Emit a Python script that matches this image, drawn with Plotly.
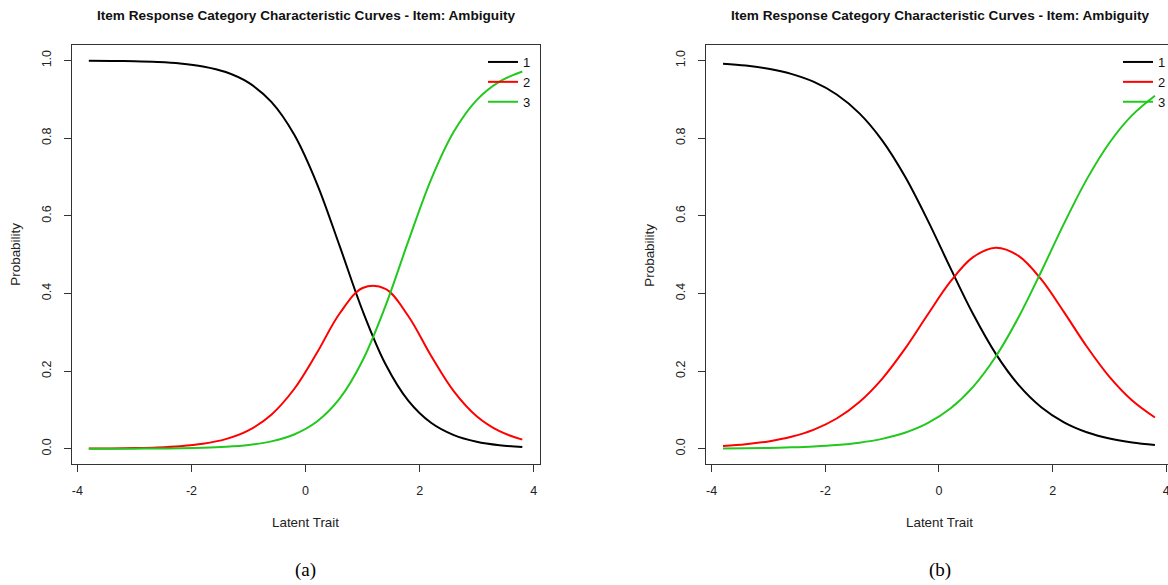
import plotly.graph_objects as go

# Latent trait grid
theta = [-3.8, -3.4, -3.0, -2.6, -2.2, -1.8, -1.4, -1.0, -0.6, -0.2,
         0.2, 0.6, 1.0, 1.4, 1.8, 2.2, 2.6, 3.0, 3.4, 3.8]

# Panel (a): category probabilities
a_cat1 = [0.9995, 0.9990, 0.9980, 0.9960, 0.9922, 0.9847, 0.9703, 0.9429, 0.8933, 0.8093,
          0.6825, 0.5212, 0.3555, 0.2184, 0.1240, 0.0669, 0.0351, 0.0181, 0.0092, 0.0047]
a_cat2 = [0.0004, 0.0009, 0.0017, 0.0033, 0.0065, 0.0128, 0.0248, 0.0473, 0.0877, 0.1539,
          0.2473, 0.3491, 0.4140, 0.4120, 0.3420, 0.2397, 0.1479, 0.0838, 0.0452, 0.0236]
a_cat3 = [0.0001, 0.0002, 0.0003, 0.0007, 0.0013, 0.0025, 0.0050, 0.0097, 0.0190, 0.0368,
          0.0702, 0.1297, 0.2272, 0.3673, 0.5340, 0.6934, 0.8170, 0.8981, 0.9456, 0.9717]

# Panel (b): category probabilities
b_cat1 = [0.9920, 0.9870, 0.9788, 0.9656, 0.9448, 0.9124, 0.8639, 0.7944, 0.7018, 0.5889,
          0.4660, 0.3470, 0.2445, 0.1646, 0.1071, 0.0681, 0.0426, 0.0264, 0.0162, 0.0100]
b_cat2 = [0.0072, 0.0117, 0.0190, 0.0308, 0.0494, 0.0780, 0.1205, 0.1802, 0.2572, 0.3453,
          0.4304, 0.4935, 0.5179, 0.4968, 0.4362, 0.3520, 0.2635, 0.1853, 0.1244, 0.0806]
b_cat3 = [0.0008, 0.0013, 0.0022, 0.0036, 0.0059, 0.0096, 0.0157, 0.0255, 0.0411, 0.0658,
          0.1036, 0.1596, 0.2376, 0.3386, 0.4567, 0.5799, 0.6939, 0.7883, 0.8594, 0.9094]

categories = ["1", "2", "3"]
colors = ["#000000", "#FF0000", "#22C81E"]
x_tickvals = [-4, -2, 0, 2, 4]
x_ticktext = ["-4", "-2", "0", "2", "4"]
y_tickvals = [0.0, 0.2, 0.4, 0.6, 0.8, 1.0]
y_ticktext = ["0.0", "0.2", "0.4", "0.6", "0.8", "1.0"]
title_text = "<b>Item Response Category Characteristic Curves - Item: Ambiguity</b>"
captions = ["(a)", "(b)"]

W, H = 1168, 585
FONT = "Liberation Sans, Arial, sans-serif"

fig = go.Figure()

panels = [
    dict(series=[a_cat1, a_cat2, a_cat3], xaxis="x", yaxis="y", legend="legend"),
    dict(series=[b_cat1, b_cat2, b_cat3], xaxis="x2", yaxis="y2", legend="legend2"),
]
for p in panels:
    for name, ys, col in zip(categories, p["series"], colors):
        fig.add_trace(go.Scatter(
            x=theta, y=ys, mode="lines", name=name,
            line=dict(color=col, width=2, shape="spline"),
            xaxis=p["xaxis"], yaxis=p["yaxis"], legend=p["legend"],
            showlegend=True, hoverinfo="skip",
        ))

# Geometry (pixels)
L_left, L_right = 71.7, 540.0
R_left = 705.7
top, bottom = 45.0, 464.3

def px_x(v):
    return v / W

def px_y(v):
    return 1 - v / H

axis_common = dict(
    showline=True, mirror=True, linecolor="#333333", linewidth=1,
    showgrid=False, zeroline=False, ticks="outside", ticklen=7,
    tickcolor="#333333", tickwidth=1, ticklabeloverflow="allow",
    tickfont=dict(family=FONT, size=12.5, color="#222222"),
)

legend_common = dict(xanchor="left", yanchor="top",
                     bgcolor="rgba(0,0,0,0)", borderwidth=0,
                     font=dict(family=FONT, size=13, color="#111111"),
                     itemwidth=30, tracegroupgap=0)

fig.update_layout(
    width=W, height=H,
    margin=dict(l=0, r=0, t=0, b=0, autoexpand=False),
    paper_bgcolor="white", plot_bgcolor="white",
    xaxis=dict(domain=[px_x(L_left), px_x(L_right)], range=[-4.1, 4.11],
               tickvals=x_tickvals, ticktext=x_ticktext, anchor="y",
               ticklabelstandoff=8, **axis_common),
    yaxis=dict(domain=[px_y(bottom), px_y(top)], range=[-0.04, 1.04],
               tickvals=y_tickvals, ticktext=y_ticktext, tickangle=-90, anchor="x",
               ticklabelstandoff=8, **axis_common),
    xaxis2=dict(domain=[px_x(R_left), 1.0], range=[-4.105, 4.03],
                tickvals=x_tickvals, ticktext=x_ticktext, anchor="y2",
                ticklabelstandoff=8, **axis_common),
    yaxis2=dict(domain=[px_y(bottom), px_y(top)], range=[-0.04, 1.04],
                tickvals=y_tickvals, ticktext=y_ticktext, tickangle=-90, anchor="x2",
                ticklabelstandoff=8, **axis_common),
    legend=dict(x=px_x(483), y=px_y(47), **legend_common),
    legend2=dict(x=px_x(1118), y=px_y(47), **legend_common),
    showlegend=True,
)

annotations = []
for cx, cap, ylab_x in [((L_left + L_right) / 2, captions[0], 16),
                        (939.5, captions[1], 650)]:
    annotations.append(dict(text=title_text, x=px_x(cx), y=px_y(15.5),
                            xref="paper", yref="paper", showarrow=False,
                            xanchor="center", yanchor="middle",
                            font=dict(family=FONT, size=13.6, color="#111111")))
    annotations.append(dict(text="Latent Trait", x=px_x(cx), y=px_y(522),
                            xref="paper", yref="paper", showarrow=False,
                            xanchor="center", yanchor="middle",
                            font=dict(family=FONT, size=13.4, color="#222222")))
    annotations.append(dict(text="Probability", x=px_x(ylab_x), y=px_y((top + bottom) / 2),
                            xref="paper", yref="paper", showarrow=False, textangle=-90,
                            xanchor="center", yanchor="middle",
                            font=dict(family=FONT, size=13.4, color="#222222")))
    annotations.append(dict(text=cap, x=px_x(cx), y=px_y(570),
                            xref="paper", yref="paper", showarrow=False,
                            xanchor="center", yanchor="middle",
                            font=dict(family="Liberation Serif, Times New Roman, serif",
                                      size=19, color="#000000")))
fig.update_layout(annotations=annotations)

fig.write_html(
    "out.html",
    config={"displayModeBar": False},
    post_script="document.body.style.margin='0';document.body.style.overflow='hidden';",
)
